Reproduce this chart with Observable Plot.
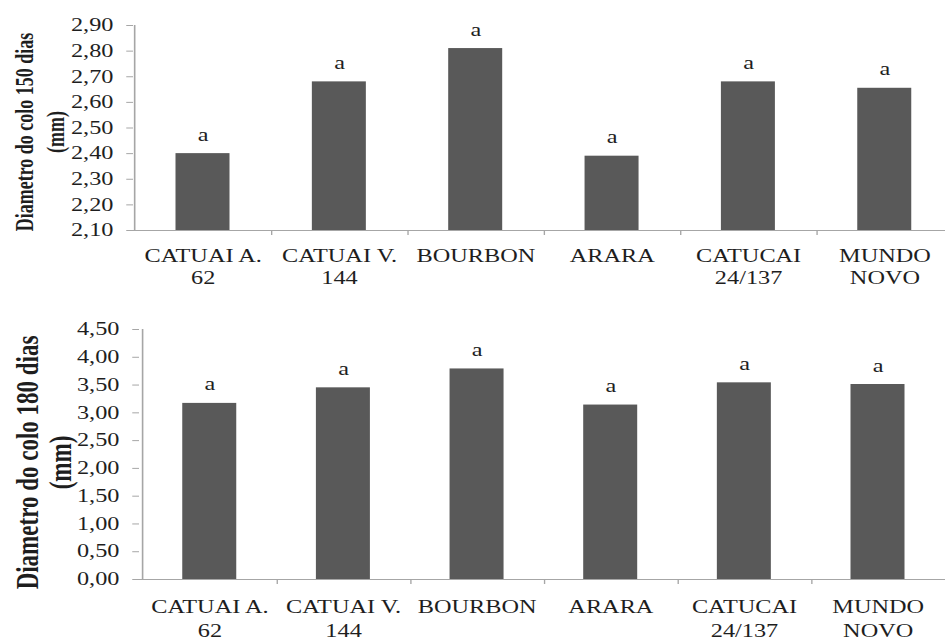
<!DOCTYPE html>
<html>
<head>
<meta charset="utf-8">
<script src="https://cdn.jsdelivr.net/npm/d3@7"></script>
<script src="https://cdn.jsdelivr.net/npm/@observablehq/plot@0.6"></script>
<style>
  html, body { margin: 0; padding: 0; background: #fff; }
  #chart svg { display: block; }
</style>
</head>
<body>
<div id="chart"></div>
<script>
// ---- data ----
const categories = ["CATUAI A. 62", "CATUAI V. 144", "BOURBON", "ARARA", "CATUCAI 24/137", "MUNDO NOVO"];
const tickLabels = ["CATUAI A.\n62", "CATUAI V.\n144", "BOURBON", "ARARA", "CATUCAI\n24/137", "MUNDO\nNOVO"];
const diam150 = [2.40, 2.68, 2.81, 2.39, 2.68, 2.655];
const diam180 = [3.17, 3.45, 3.79, 3.14, 3.54, 3.51];
const letters150 = ["a", "a", "a", "a", "a", "a"];
const letters180 = ["a", "a", "a", "a", "a", "a"];
const yTicks150 = [2.10, 2.20, 2.30, 2.40, 2.50, 2.60, 2.70, 2.80, 2.90];
const yTicks180 = [0.00, 0.50, 1.00, 1.50, 2.00, 2.50, 3.00, 3.50, 4.00, 4.50];
const title150 = "Diametro do colo 150 dias\n(mm)";
const title180 = "Diametro do colo 180 dias\n(mm)";

// ---- look ----
const STRETCH = 1.35;           // the reference is horizontally stretched
const W = 945 / STRETCH;
const FONT = "Liberation Serif";
const BAR = "#595959";
const AXIS = "#a6a6a6";
const INK = "#1e1e1e";
const fmt = d => d.toFixed(2).replace(".", ",");

function panel(values, letters, yTicks, title, cfg) {
  const rows = categories.map((c, i) => ({cat: c, v: values[i], sig: letters[i]}));
  const yMin = yTicks[0], yMax = yTicks[yTicks.length - 1];
  const xr = cfg.xRange;
  const step = (xr[1] - xr[0]) / categories.length;
  const svg = Plot.plot({
    width: W,
    height: cfg.height,
    marginTop: cfg.marginTop,
    marginBottom: cfg.marginBottom,
    marginLeft: xr[0],
    marginRight: 0,
    style: {fontFamily: FONT, background: "white", color: INK, overflow: "visible"},
    x: {type: "band", domain: categories, range: xr, paddingInner: 0.6, paddingOuter: 0.3, axis: null},
    y: {domain: [yMin, yMax], axis: null},
    marks: [
      Plot.barY(rows, {x: "cat", y1: () => yMin, y2: "v", fill: BAR}),
      // axis lines
      Plot.ruleY([yMin], {stroke: AXIS, strokeWidth: 1.2}),
      Plot.ruleX([categories[0]], {dx: -step / 2, stroke: AXIS, strokeWidth: 1.2}),
      // category boundary ticks
      Plot.ruleX(categories.slice(0, 5), {dx: step / 2, y1: () => yMin, y2: () => yMin, insetBottom: -5, stroke: AXIS}),
      Plot.axisY({ticks: yTicks, tickFormat: fmt, tickSize: 5, tickPadding: 10, stroke: AXIS, fill: INK, fontSize: 18, label: null}),
      Plot.axisX({tickSize: 0, tickPadding: cfg.xPad, tickFormat: d => tickLabels[categories.indexOf(d)],
                  fontSize: 18, lineHeight: cfg.xLine, fill: INK, label: null}),
      Plot.text(rows, {x: "cat", y: "v", text: "sig", lineAnchor: "bottom", dy: -13, fontSize: 18, fill: INK}),
      Plot.text([title], {frameAnchor: "left", rotate: -90, dx: cfg.titleDx, dy: cfg.titleDy,
                          fontSize: cfg.titleSize, fontWeight: "bold", lineHeight: cfg.titleLine,
                          textAnchor: "middle", lineAnchor: "middle", fill: INK})
    ]
  });
  svg.setAttribute("preserveAspectRatio", "none");
  svg.setAttribute("width", 945);
  svg.style.width = "945px";
  svg.style.maxWidth = "none";
  svg.style.height = cfg.height + "px";
  return svg;
}

const chart = document.getElementById("chart");
chart.appendChild(panel(diam150, letters150, yTicks150, title150, {
  height: 298, marginTop: 25, marginBottom: 68,
  xRange: [133 / STRETCH, 955 / STRETCH],
  xPad: 16, xLine: 1.22,
  titleDx: -70.5, titleDy: 4, titleSize: 18, titleLine: 1.28
}));
chart.appendChild(panel(diam180, letters180, yTicks180, title180, {
  height: 346, marginTop: 31, marginBottom: 65,
  xRange: [139 / STRETCH, 947 / STRETCH],
  xPad: 17, xLine: 1.3,
  titleDx: -71, titleDy: 8, titleSize: 23, titleLine: 1.05
}));
</script>
</body>
</html>
